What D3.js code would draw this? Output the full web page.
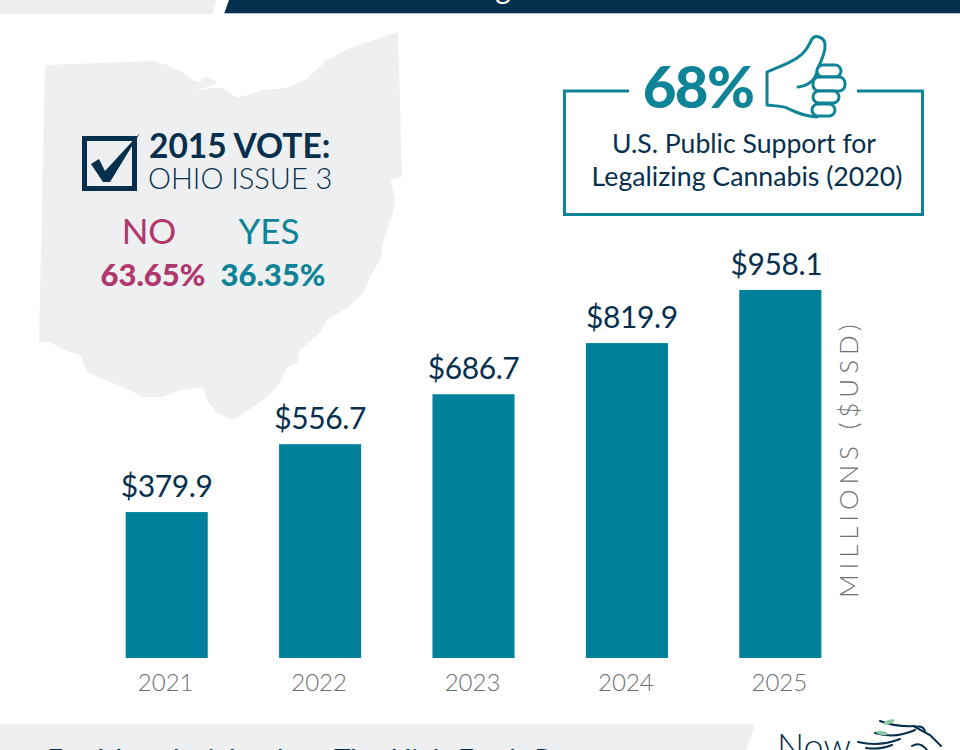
<!DOCTYPE html>
<html>
<head>
<meta charset="utf-8">
<script src="https://cdn.jsdelivr.net/npm/d3@7/dist/d3.min.js"></script>
<style>
html,body{margin:0;padding:0;background:#fff;overflow:hidden}
svg{display:block}
text{font-family:Lato,"Open Sans",sans-serif}
</style>
</head>
<body>
<div id="chart"></div>
<script>
const years = ["2021","2022","2023","2024","2025"];
const salesValues = [379.9,556.7,686.7,819.9,958.1];
const axisLabel = "MILLIONS ($USD)";
const voteLabels = ["NO","YES"];
const voteValues = [63.65,36.35];
const ohioOutline = [[45,65],[153,61],[167,65],[182,72],[197,82],[207,77],[218,83],[207,87],[193,91],[213,88],[223,88],[237,98],[263,90],[287,88],[308,78],[327,60],[350,48],[398,32],[400,100],[402,177],[390,180],[395,197],[393,213],[383,243],[380,260],[370,277],[363,293],[347,308],[327,320],[320,333],[300,350],[297,363],[287,367],[280,383],[267,397],[253,407],[233,420],[217,413],[207,400],[203,387],[180,390],[163,397],[143,397],[123,387],[100,378],[88,373],[80,355],[63,350],[50,342],[39,342]];

const NAVY="#06304e", TEAL="#0e8496", BAR="#00809b", ROSE="#b0386c", GREY="#6d6f72", LIGHT="#edeff1";
const svg=d3.select("#chart").append("svg").attr("width",960).attr("height",750);

// header band
svg.append("path").attr("d","M0,0H217L212,14H0Z").attr("fill",LIGHT);
svg.append("path").attr("d","M229,0H960V14H224Z").attr("fill",NAVY);
svg.append("rect").attr("x",224).attr("y",13).attr("width",736).attr("height",1).attr("fill","#a8c8d8");
svg.append("text").attr("x",503).attr("y",-1).attr("text-anchor","middle").attr("font-size",30).attr("fill","#fff").text("g");

// Ohio silhouette
svg.append("path").attr("d",d3.line().curve(d3.curveLinearClosed)(ohioOutline)).attr("fill",LIGHT);

// checkbox
svg.append("rect").attr("x",84.5).attr("y",138.5).attr("width",50).attr("height",50).attr("fill","none").attr("stroke",NAVY).attr("stroke-width",5);
svg.append("path").attr("d","M91,164L99,159L105,171L140,133L110,182H103Z").attr("fill",NAVY);
svg.append("text").attr("x",149).attr("y",158).attr("font-size",33.5).attr("font-weight",700).attr("fill",NAVY).text("2015 VOTE:");
svg.append("text").attr("x",148).attr("y",189).attr("font-size",29).attr("font-weight",300).attr("fill",NAVY).text("OHIO ISSUE 3");

// vote results
const voteX=d3.scalePoint().domain(voteLabels).range([149,269]);
const voteColor=d3.scaleOrdinal().domain(voteLabels).range([ROSE,TEAL]);
const voteG=svg.append("g").selectAll("g").data(voteLabels).join("g");
voteG.append("text").attr("x",d=>voteX(d)).attr("y",244).attr("text-anchor","middle").attr("font-size",35).attr("fill",d=>voteColor(d)).text(d=>d);
voteG.append("text").attr("x",d=>voteX(d)+4).attr("y",286).attr("text-anchor","middle").attr("font-size",31).attr("font-weight",900).attr("fill",d=>voteColor(d)).text((d,i)=>voteValues[i].toFixed(2)+"%");

// support callout
svg.append("path").attr("d","M629,91H564.5V214.5H922.5V91H857").attr("fill","none").attr("stroke",TEAL).attr("stroke-width",3);
svg.append("text").attr("x",698).attr("y",108).attr("text-anchor","middle").attr("font-size",58).attr("font-weight",900).attr("letter-spacing",-1.5).attr("fill",TEAL).text("68%");
const thumb=svg.append("g").attr("fill","none").attr("stroke",TEAL).attr("stroke-width",3).attr("stroke-linejoin","round").attr("stroke-linecap","round");
thumb.append("path").attr("d","M817,70C821,62 826,52 825,44C824,37 815,34 812,39C808,47 805,53 797,58C788,64 776,68 767,72V105C776,106 782,106 787,108C796,112 803,116 817,117");
thumb.append("path").attr("d","M817,72C815,80 808,86 798,87");
[[817,65,24,12],[813,77,32,14],[813,91,26,12],[812,104,23,12]].forEach(r=>
  thumb.append("rect").attr("x",r[0]).attr("y",r[1]).attr("width",r[2]).attr("height",r[3]).attr("rx",6).attr("fill","#fff"));
svg.append("text").attr("x",744).attr("y",153).attr("text-anchor","middle").attr("font-size",26.6).attr("fill",NAVY).text("U.S. Public Support for");
svg.append("text").attr("x",747).attr("y",186).attr("text-anchor","middle").attr("font-size",26.7).attr("fill",NAVY).text("Legalizing Cannabis (2020)");

// bars
const x=d3.scaleBand().domain(years).range([90,857]).paddingInner(0.465).paddingOuter(0.2325);
const y=d3.scaleLinear().domain([0,958.1]).range([658,290]);
const rows=years.map((yr,i)=>({yr,v:salesValues[i]}));
svg.append("g").selectAll("rect").data(rows).join("rect")
  .attr("x",d=>x(d.yr)).attr("y",d=>y(d.v)).attr("width",x.bandwidth()).attr("height",d=>y(0)-y(d.v)).attr("fill",BAR);
const labelNudge={"2024":5,"2025":-4};
svg.append("g").selectAll("text").data(rows).join("text")
  .attr("x",d=>x(d.yr)+x.bandwidth()/2+(labelNudge[d.yr]||0)).attr("y",d=>y(d.v)-15).attr("text-anchor","middle")
  .attr("font-size",30).attr("letter-spacing",-0.4).attr("fill",NAVY).text(d=>"$"+d.v.toFixed(1));
const ax=svg.append("g").attr("transform","translate(-1,658)").call(d3.axisBottom(x).tickSize(0).tickPadding(16));
ax.select(".domain").remove();
ax.selectAll("text").attr("font-size",24).attr("font-weight",300).attr("fill",GREY).style("font-family","Lato");
svg.append("text").attr("transform","translate(858,598) rotate(-90)").attr("font-size",26).attr("font-weight",300).attr("letter-spacing",4.9).attr("fill",GREY).text(axisLabel);

// footer
svg.append("path").attr("d","M0,724H755L746,750H0Z").attr("fill",LIGHT);
svg.append("text").attr("x",47).attr("y",770).attr("font-size",28).attr("fill",NAVY).attr("word-spacing",2.5).text("For More Insights Into The High Fresh Report");
svg.append("text").attr("x",777).attr("y",759).attr("font-size",36).attr("font-weight",300).attr("fill",NAVY).text("Now");
const horse=svg.append("g").attr("fill","none").attr("stroke",NAVY).attr("stroke-width",2).attr("stroke-linecap","round");
["M880,721Q895,727 915,726","M875,733Q895,739 915,730","M858,742Q880,747 900,739","M915,727L930,735L941,746","M915,727Q923,725 925,731","M912,746Q920,741 927,750","M866,748Q880,750 892,745"]
 .forEach(d=>horse.append("path").attr("d",d));
[[889,722,-20],[882,733,10]].forEach(l=>svg.append("ellipse").attr("cx",l[0]).attr("cy",l[1]).attr("rx",6).attr("ry",2).attr("fill","#8fc9a8").attr("transform",`rotate(${l[2]} ${l[0]} ${l[1]})`));
</script>
</body>
</html>
